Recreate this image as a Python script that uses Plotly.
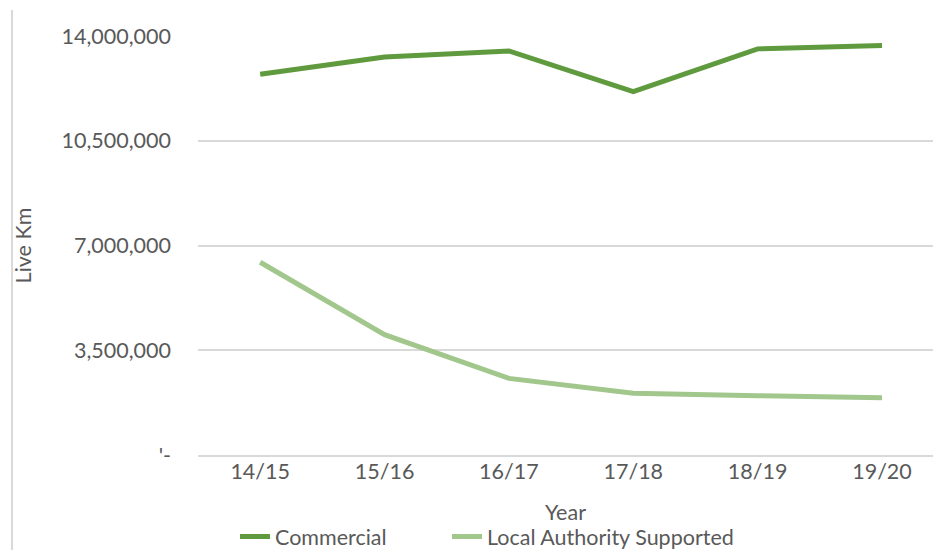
import plotly.graph_objects as go

years = ["14/15", "15/16", "16/17", "17/18", "18/19", "19/20"]
commercial = [12720000, 13300000, 13500000, 12140000, 13570000, 13680000]
local_authority = [6440000, 4020000, 2560000, 2060000, 1980000, 1910000]

y_tickvals = [0, 3500000, 7000000, 10500000, 14000000]
y_ticktext = ["'-", "3,500,000", "7,000,000", "10,500,000", "14,000,000"]

FONT = "Lato"
TXT = "#595959"
FS = 21.5

fig = go.Figure()
fig.add_trace(go.Scatter(x=years, y=commercial, mode="lines", name="Commercial",
                         line=dict(color="#5F9B3E", width=5), legend="legend", showlegend=True))
fig.add_trace(go.Scatter(x=years, y=local_authority, mode="lines", name="Local Authority Supported",
                         line=dict(color="#A2C78C", width=5), legend="legend2", showlegend=True))

leg_common = dict(orientation="h", xanchor="left", y=(455 - 557) / 419, yanchor="bottom",
                  font=dict(size=FS, color=TXT), bgcolor="rgba(0,0,0,0)")

fig.update_layout(
    width=933, height=550,
    margin=dict(l=198, r=0, t=36, b=95, autoexpand=False),
    paper_bgcolor="white", plot_bgcolor="white",
    font=dict(family=FONT, color=TXT, size=FS),
    hovermode=False,
    showlegend=True,
    legend=dict(x=(235 - 198) / 735, **leg_common),
    legend2=dict(x=(447 - 198) / 735, **leg_common),
    xaxis=dict(type="category", range=[-0.5, 5.41], showgrid=False, automargin=False,
               showline=True, linecolor="#D9D9D9", linewidth=1.5,
               ticks="", ticklabelstandoff=-4, tickfont=dict(size=FS, color=TXT),
               title=dict(text="Year", font=dict(size=FS, color=TXT), standoff=22)),
    yaxis=dict(range=[0, 14000000], tickvals=y_tickvals, ticktext=y_ticktext,
               showgrid=True, gridcolor="#D9D9D9", gridwidth=1.5, automargin=False,
               zeroline=False, showline=False, ticks="",
               ticklabelstandoff=26,
               tickfont=dict(size=FS, color=TXT),
               title=dict(text="Live Km", font=dict(size=FS, color=TXT), standoff=23)),
    shapes=[dict(type="line", xref="paper", yref="paper",
                 x0=(12 - 198) / 735, x1=(12 - 198) / 735, y0=-95 / 419, y1=(455 - 10) / 419,
                 line=dict(color="#D9D9D9", width=2))],
)

fig.write_html("out.html")
